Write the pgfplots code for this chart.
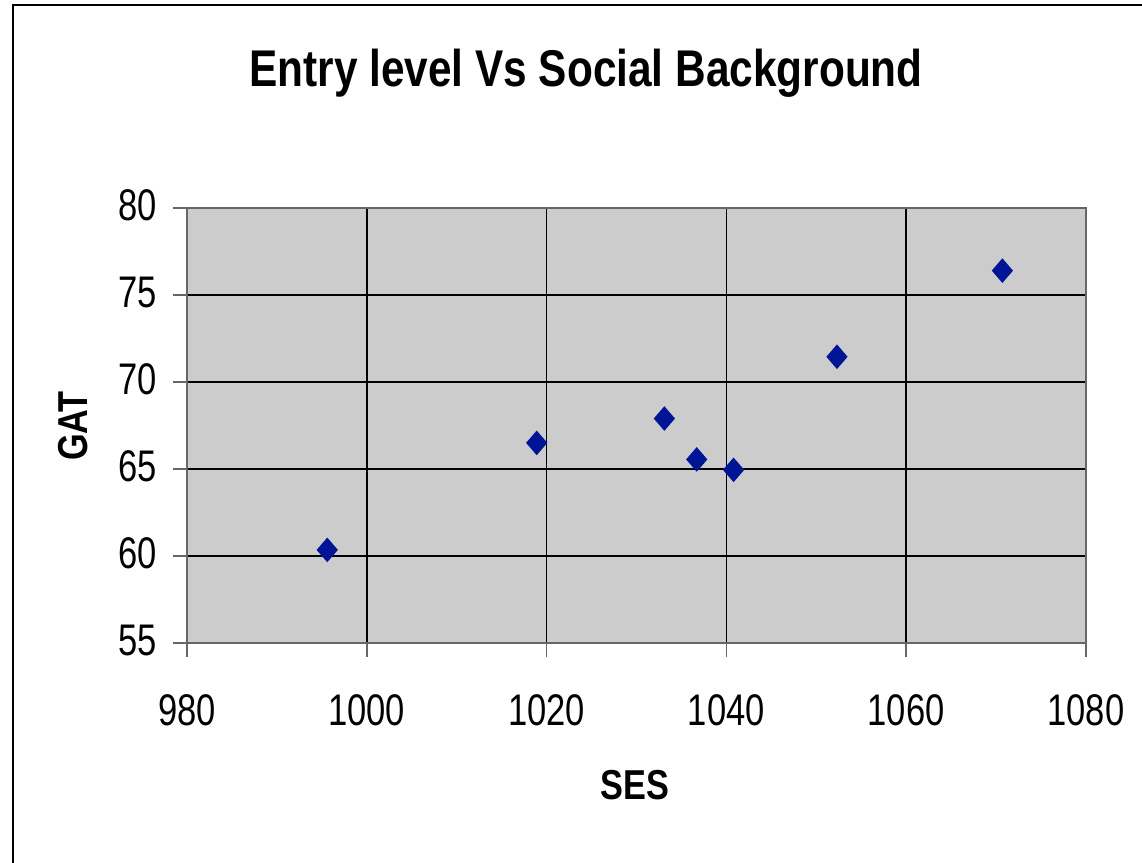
\documentclass[border=0pt]{standalone}
\usepackage{fontspec}
\setmainfont[FakeStretch=0.82]{Liberation Sans}
\newfontfamily\tickfont[FakeStretch=0.78]{Liberation Sans}
\usepackage{pgfplots}
\pgfplotsset{compat=1.18}

\definecolor{plotbg}{RGB}{204,204,204}
\definecolor{markblue}{RGB}{0,20,150}

\begin{document}
\begin{tikzpicture}[x=0.1mm,y=-0.1mm]
  \useasboundingbox (0,0) rectangle (1142,863);
  \clip (0,0) rectangle (1142,863);
  % outer chart frame (right and bottom edges fall outside the image)
  \draw[line width=0.2mm, black] (13,900) -- (13,5) -- (1200,5);

  \begin{axis}[
    at={(18.7mm,-20.8mm)}, anchor=north west,
    scale only axis,
    width=89.9mm, height=43.5mm,
    xmin=980, xmax=1080,
    ymin=55, ymax=80,
    xtick={980,1000,...,1080},
    ytick={55,60,...,80},
    axis background/.style={fill=plotbg},
    axis line style={draw=black!60, line width=0.15mm},
    grid=major,
    major grid style={black, line width=0.15mm},
    tick align=outside,
    major tick length=1.4mm,
    tick style={black!60, line width=0.15mm},
    xtick pos=bottom, ytick pos=left,
    /pgf/number format/assume math mode=true,
    /pgf/number format/1000 sep={},
    ticklabel style={font=\tickfont\fontsize{12.6}{14}\selectfont},
    yticklabel style={anchor=east, xshift=-0.4mm, yshift=0.3mm},
    xticklabel style={anchor=north, yshift=-2.5mm},
    clip=false,
  ]
    \addplot[only marks, mark=diamond*, mark size=3.2pt,
             mark options={fill=markblue, draw=markblue, xscale=1.15}]
      coordinates {
        (995.6,60.35)
        (1018.9,66.5)
        (1033.1,67.9)
        (1036.7,65.55)
        (1040.8,64.95)
        (1052.3,71.45)
        (1070.7,76.4)
      };
  \end{axis}

  \node[anchor=base, inner sep=0pt, font=\bfseries\fontsize{14.7}{17}\selectfont]
    at (586,87) {Entry level Vs Social Background};
  \node[anchor=base, inner sep=0pt, font=\bfseries\fontsize{11.9}{14}\selectfont]
    at (635,800) {SES};
  \node[anchor=base, rotate=90, inner sep=0pt, font=\bfseries\fontsize{11.9}{14}\selectfont]
    at (88,426) {GAT};
\end{tikzpicture}
\end{document}
